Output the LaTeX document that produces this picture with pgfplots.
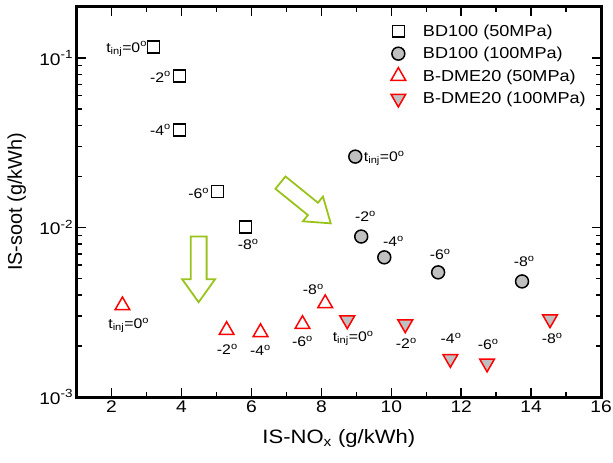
\documentclass[border=0pt]{standalone}
\usepackage{pgfplots}
\pgfplotsset{compat=1.18}
\usepackage{fontspec}
\setmainfont[FakeStretch=1.14]{Liberation Sans}
\newfontfamily\ylabfont{Liberation Sans}
\definecolor{arrowgreen}{HTML}{99C31A}
\definecolor{mygray}{HTML}{C0C0C0}
\newcommand{\dg}{\textsuperscript{o}}
\begin{document}
\begin{tikzpicture}
\begin{axis}[
  scale only axis,
  width=527bp, height=392bp,
  ymode=log,
  xmin=1, xmax=16, ymin=0.001, ymax=0.2,
  xtick={2,4,...,16},
  minor xtick={1,3,...,15},
  ytick={0.001,0.01,0.1},
  yticklabels={10\textsuperscript{-3},10\textsuperscript{-2},10\textsuperscript{-1}},
  minor ytick={0.002,0.003,0.004,0.005,0.006,0.007,0.008,0.009,0.02,0.03,0.04,0.05,0.06,0.07,0.08,0.09,0.2},
  tick align=inside,
  axis line style={line width=3bp},
  major tick length=9bp, minor tick length=5bp,
  every tick/.style={black, line width=1.5bp},
  /pgf/number format/assume math mode=true,
  tick label style={font=\fontsize{17}{20}\selectfont},
  xlabel={IS-NO\textsubscript{x} (g/kWh)},
  ylabel={IS-soot (g/kWh)},
  xlabel style={font=\fontsize{19.5}{22}\selectfont, at={(axis description cs:0.5,-0.105)}, anchor=center},
  ylabel style={font=\ylabfont\fontsize{20}{22}\selectfont, at={(axis description cs:-0.114,0.5)}, anchor=center},
  legend style={at={(0.975,0.96)}, anchor=north east, draw=none, fill=none,
    font=\fontsize{16}{19}\selectfont, row sep=5.5bp, inner sep=0pt},
  legend cell align=left,
  legend image code/.code={\path (0bp,0bp) (22bp,0bp); \draw[#1] plot coordinates {(0bp,0bp)};},
]
\addplot[only marks, mark=square, mark size=6bp, black, line width=1.5bp]
  coordinates {(3.2,0.116) (3.94,0.0784) (3.94,0.0377) (5.03,0.0163) (5.83,0.0101)};
\addlegendentry{BD100 (50MPa)}
\addplot[only marks, mark=*, mark size=6.5bp, black, line width=1.5bp, mark options={fill=mygray}]
  coordinates {(8.97,0.0262) (9.14,0.00885) (9.8,0.00667) (11.34,0.00544) (13.74,0.00481)};
\addlegendentry{BD100 (100MPa)}
\addplot[only marks, mark=triangle, mark size=8.5bp, red, line width=1.5bp]
  coordinates {(2.31,0.00347) (5.29,0.00248) (6.26,0.00241) (7.46,0.00269) (8.11,0.00357)};
\addlegendentry{B-DME20 (50MPa)}
\addplot[only marks, mark=triangle*, mark size=8.5bp, red, line width=1.5bp, mark options={rotate=180, fill=mygray}]
  coordinates {(8.74,0.00284) (10.4,0.00269) (11.69,0.00168) (12.74,0.00158) (14.54,0.00288)};
\addlegendentry{B-DME20 (100MPa)}

\tikzset{lab/.style={font=\fontsize{14}{16}\selectfont, inner sep=0pt}}
% BD100 50MPa
\node[lab] at (axis cs:2.43,0.113) {t\textsubscript{inj}=0\dg};
\node[lab] at (axis cs:3.4,0.0773) {-2\dg};
\node[lab] at (axis cs:3.4,0.0377) {-4\dg};
\node[lab] at (axis cs:4.49,0.0158) {-6\dg};
\node[lab] at (axis cs:5.91,0.00794) {-8\dg};
% BD100 100MPa
\node[lab] at (axis cs:9.8,0.0255) {t\textsubscript{inj}=0\dg};
\node[lab] at (axis cs:9.26,0.0116) {-2\dg};
\node[lab] at (axis cs:10.06,0.00827) {-4\dg};
\node[lab] at (axis cs:11.4,0.00694) {-6\dg};
\node[lab] at (axis cs:13.8,0.00631) {-8\dg};
% B-DME20 50MPa
\node[lab] at (axis cs:2.49,0.00265) {t\textsubscript{inj}=0\dg};
\node[lab] at (axis cs:5.31,0.00191) {-2\dg};
\node[lab] at (axis cs:6.26,0.00189) {-4\dg};
\node[lab] at (axis cs:7.46,0.00213) {-6\dg};
\node[lab] at (axis cs:7.77,0.00432) {-8\dg};
% B-DME20 100MPa
\node[lab] at (axis cs:8.91,0.00222) {t\textsubscript{inj}=0\dg};
\node[lab] at (axis cs:10.43,0.00208) {-2\dg};
\node[lab] at (axis cs:11.71,0.00222) {-4\dg};
\node[lab] at (axis cs:12.77,0.00205) {-6\dg};
\node[lab] at (axis cs:14.6,0.00222) {-8\dg};

\coordinate (DA) at (axis cs:4.49,0.00885);
\coordinate (DB) at (axis cs:6.83,0.0184);
\coordinate (SW) at (rel axis cs:0,0);
\coordinate (NE) at (rel axis cs:1,1);
\end{axis}
\draw[arrowgreen, line width=1.8bp, line join=miter, shift={(DA)}]
  (-8bp,0) -- (8bp,0) -- (8bp,-43bp) -- (16.5bp,-43bp) -- (0,-66bp) -- (-16.5bp,-43bp) -- (-8bp,-43bp) -- cycle;
\draw[arrowgreen, line width=1.8bp, line join=miter, shift={(DB)}, rotate=-39]
  (0,8bp) -- (42bp,8bp) -- (42bp,16bp) -- (65bp,0) -- (42bp,-16bp) -- (42bp,-8bp) -- (0,-8bp) -- cycle;
\pgfresetboundingbox
\path ([xshift=-77bp,yshift=-66bp]SW) rectangle ([xshift=12bp,yshift=7bp]NE);
\end{tikzpicture}
\end{document}
